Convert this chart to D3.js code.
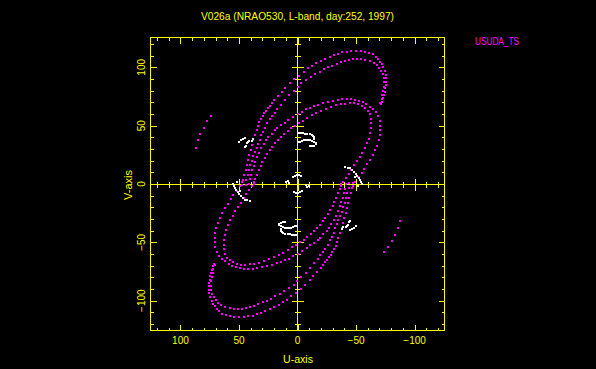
<!DOCTYPE html>
<html><head><meta charset="utf-8">
<script src="https://cdn.jsdelivr.net/npm/d3@7"></script>
<style>html,body{margin:0;background:#000;overflow:hidden}svg{display:block}</style>
</head><body>
<svg id="c" width="596" height="369"></svg>
<script>
const titleText = "V026a (NRAO530, L-band, day:252, 1997)";
const legendLabel = "USUDA_TS";
const uTickLabels = [100, 50, 0, -50, -100];
const vTickLabels = [-100, -50, 0, 50, 100];
const minorTicks = d3.range(-120, 121, 10);

// UV samples [u, v] (upper half); each is also drawn at its conjugate (-u, -v)
const trackO1 = [[47.4,-0.9],[46.6,3.4],[45.4,7.7],[44.4,12.0],[43.4,16.3],[42.3,20.6],[41.2,24.9],[40.0,29.1],[38.9,33.4],[37.8,37.7],[36.7,42.0],[35.0,46.3],[33.7,49.7],[32.5,52.9],[31.2,55.7],[29.7,58.3],[28.2,60.6],[26.9,62.8],[25.2,65.1],[23.9,67.1],[21.8,69.4],[19.8,72.0],[16.9,75.4],[13.5,78.9],[10.4,82.5],[6.4,86.6],[2.6,90.0],[-1.3,93.0],[-5.3,96.4],[-9.0,99.2],[-12.4,101.4],[-16.1,103.5],[-19.8,105.7],[-23.2,107.1],[-27.5,108.9],[-31.2,110.6],[-34.6,111.7],[-38.3,112.9],[-42.0,113.4],[-46.0,114.0],[-50.2,114.3],[-54.0,114.0],[-57.4,113.4],[-60.8,112.5],[-64.5,111.2],[-66.8,109.1],[-68.8,107.1],[-70.5,104.8],[-72.2,102.6],[-73.3,100.0],[-74.5,96.9],[-75.3,93.4],[-75.6,90.6],[-75.6,87.7],[-75.3,84.9],[-75.0,82.0],[-74.5,79.1],[-73.9,76.3],[-73.0,73.5],[-72.2,70.5],[-71.6,68.3]];
const trackO2 = [[44.4,-0.9],[43.7,3.4],[42.7,7.7],[41.4,12.0],[40.2,15.9],[38.9,19.7],[37.6,23.6],[36.3,27.4],[34.9,30.9],[33.6,34.7],[32.2,38.1],[30.8,41.6],[29.2,45.0],[27.8,48.4],[26.1,51.9],[23.9,55.3],[21.8,58.3],[19.6,60.9],[17.1,64.3],[14.1,68.1],[10.7,72.4],[7.0,76.3],[3.0,79.7],[-0.2,83.1],[-3.2,86.3],[-7.5,89.1],[-11.3,91.7],[-15.2,94.0],[-19.0,96.3],[-22.6,98.3],[-26.1,100.0],[-29.7,101.4],[-33.5,102.9],[-36.9,104.3],[-40.3,105.4],[-43.7,106.3],[-47.4,106.9],[-51.1,107.1],[-54.5,106.9],[-57.9,106.3],[-61.7,105.4],[-65.4,104.0],[-68.2,102.0],[-69.9,99.7],[-71.6,96.9],[-72.8,94.0],[-73.5,90.6],[-73.7,87.2],[-73.5,83.4],[-73.0,79.7],[-72.4,76.3],[-71.8,72.9],[-70.9,69.4]];
const trackI1 = [[41.7,0.0],[40.6,3.9],[39.7,7.7],[38.6,11.6],[37.4,15.4],[36.1,19.1],[34.6,23.1],[32.9,27.0],[31.2,30.6],[29.0,34.0],[26.9,37.3],[24.8,40.3],[22.2,43.1],[19.6,45.9],[17.1,48.3],[14.1,50.6],[11.1,52.7],[7.7,54.9],[3.8,57.4],[0.0,60.0],[-3.6,62.0],[-7.1,63.9],[-10.6,65.4],[-14.1,66.9],[-17.8,68.1],[-21.8,69.3],[-26.1,70.5],[-30.3,71.4],[-34.2,72.0],[-38.0,72.5],[-41.9,72.7],[-45.7,72.6],[-49.1,72.2],[-52.5,71.3],[-56.0,70.0],[-58.9,68.3],[-61.9,66.3],[-64.5,64.0],[-66.9,61.5],[-68.8,58.3],[-70.1,54.4],[-70.8,50.1],[-70.9,45.9],[-70.3,41.6],[-69.2,37.3],[-67.7,33.0],[-66.0,28.9],[-64.1,24.9],[-61.9,20.8],[-59.6,16.9],[-57.2,13.1],[-54.7,9.4],[-52.1,5.7],[-49.5,2.1],[-47.0,-1.3]];
const trackI2 = [[36.9,0.0],[35.9,3.9],[34.6,7.7],[33.1,11.6],[31.6,15.3],[29.9,18.9],[28.0,22.3],[26.1,25.7],[23.9,28.9],[21.6,32.0],[19.2,35.0],[16.7,37.7],[14.1,40.3],[11.3,42.9],[8.4,45.3],[5.4,47.6],[2.3,49.7],[-0.9,52.0],[-4.3,54.4],[-8.1,56.7],[-12.0,58.9],[-16.1,60.6],[-20.3,62.6],[-24.6,64.5],[-28.9,66.0],[-33.1,67.3],[-37.0,68.2],[-40.8,68.8],[-44.6,69.2],[-48.3,69.1],[-51.7,68.4],[-54.7,67.1],[-57.5,65.3],[-60.1,63.0],[-61.8,60.0],[-62.6,56.1],[-63.0,51.9],[-62.8,47.6],[-62.1,43.3],[-60.9,39.0],[-59.4,34.9],[-57.5,30.9],[-55.4,27.0],[-53.1,23.1],[-50.7,19.5],[-48.3,15.9],[-45.9,12.3],[-43.6,8.7],[-41.3,5.1],[-39.0,1.5],[-36.8,-2.0]];
const trackS = [[73.9,58.3],[77.1,54.0],[80.5,48.3],[83.3,43.5],[85.3,37.7],[87.0,31.5]];
const whiteW1 = [[49.7,36.3],[48.3,37.7],[46.3,38.6],[44.9,39.2],[43.4,34.9],[44.3,32.8],[44.9,31.5],[42.5,36.0],[41.2,36.6],[39.1,37.1],[37.8,38.3]];
const whiteW2 = [[-1.7,44.0],[-3.4,43.9],[-5.1,43.5],[-6.8,43.1],[-8.5,42.9],[-10.3,42.6],[-12.0,42.0],[-13.2,41.1],[-14.1,39.9],[-14.4,38.6],[-0.9,35.7],[-2.1,36.3],[-3.8,37.1],[-5.6,37.7],[-7.3,38.0],[-9.0,38.0],[-10.7,37.7],[-12.4,37.1],[-14.1,36.4],[-15.4,35.4],[-15.4,34.0],[-13.7,33.0],[-12.0,32.6],[-10.3,32.3]];
const whiteW3 = [[-41.0,14.3],[-43.1,13.9],[-44.9,13.3],[-46.6,12.0],[-48.3,10.5],[-49.8,8.8],[-51.1,7.1],[-52.3,5.3],[-53.4,3.4],[-54.4,1.5],[-55.1,-0.4],[-49.1,5.6],[-52.1,-2.1]];
const whiteW4 = [[4.1,6.4],[2.4,7.0],[0.7,7.3],[-1.0,7.3],[-2.7,7.0]];
const whiteW5 = [[9.6,2.0],[8.1,2.8],[7.5,0.6]];

const YEL = "#ffff00", MAG = "#ff00ff", WHT = "#ffffff";
const svg = d3.select("#c");
svg.append("rect").attr("width", 596).attr("height", 369).attr("fill", "#000");

const x = d3.scaleLinear().domain([126, -126]).range([150, 445]);
const y = d3.scaleLinear().domain([-126, 126]).range([331, 37]);

const withConj = arr => arr.concat(arr.map(d => [-d[0], -d[1]]));

function dots(arr, color, size) {
  svg.append("g").attr("shape-rendering", "crispEdges")
    .selectAll("rect").data(withConj(arr)).join("rect")
    .attr("x", d => Math.round(x(d[0]) - size / 2))
    .attr("y", d => Math.round(y(d[1]) - size / 2))
    .attr("width", size).attr("height", size).attr("fill", color);
}

// frame and axes
const g = svg.append("g").attr("stroke", YEL).attr("stroke-width", 1).attr("shape-rendering", "crispEdges");
const X0 = Math.round(x(126)) + 0.5, X1 = Math.round(x(-126)) - 0.5;
const Y0 = Math.round(y(126)) + 0.5, Y1 = Math.round(y(-126)) - 0.5;
const xz = Math.floor(x(0)) + 0.5, yz = Math.round(y(0)) + 0.5;
g.append("rect").attr("x", X0).attr("y", Y0).attr("width", X1 - X0).attr("height", Y1 - Y0).attr("fill", "none");
g.append("line").attr("x1", X0).attr("x2", X1).attr("y1", yz).attr("y2", yz);
g.append("line").attr("x1", xz).attr("x2", xz).attr("y1", Y0).attr("y2", Y1);

minorTicks.forEach(t => {
  const L = (t % 50 === 0) ? 6 : 3;
  const px = Math.round(x(t)) + 0.5, py = Math.round(y(t)) + 0.5;
  // frame ticks (inward)
  g.append("line").attr("x1", px).attr("x2", px).attr("y1", Y1).attr("y2", Y1 - L);
  g.append("line").attr("x1", px).attr("x2", px).attr("y1", Y0).attr("y2", Y0 + L);
  g.append("line").attr("y1", py).attr("y2", py).attr("x1", X0).attr("x2", X0 + L);
  g.append("line").attr("y1", py).attr("y2", py).attr("x1", X1).attr("x2", X1 - L);
  // ticks on zero axes (both sides)
  g.append("line").attr("x1", px).attr("x2", px).attr("y1", yz - L).attr("y2", yz + L);
  g.append("line").attr("y1", py).attr("y2", py).attr("x1", xz - L).attr("x2", xz + L);
});

// data points
dots(trackO1, MAG, 2);
dots(trackO2, MAG, 2);
dots(trackI1, MAG, 2);
dots(trackI2, MAG, 2);
dots(trackS, MAG, 1.5);
dots(whiteW1, WHT, 2);
dots(whiteW2, WHT, 2);
dots(whiteW3, WHT, 2);
dots(whiteW4, WHT, 2);
dots(whiteW5, WHT, 2);

// texts
const font = "'Liberation Sans', Arial, sans-serif";
const fmt = v => v < 0 ? "\u2212" + Math.abs(v) : String(v);
svg.append("g").selectAll("text").data(uTickLabels).join("text")
  .attr("x", d => x(d)).attr("y", 343.5).attr("text-anchor", "middle")
  .attr("font-family", font).attr("font-size", 10).attr("fill", YEL).text(fmt);
svg.append("g").selectAll("text").data(vTickLabels).join("text")
  .attr("transform", d => `translate(145,${y(d)}) rotate(-90)`).attr("text-anchor", "middle")
  .attr("font-family", font).attr("font-size", 10).attr("fill", YEL).text(fmt);

svg.append("text").attr("x", 297.5).attr("y", 19.5).attr("text-anchor", "middle")
  .attr("font-family", font).attr("font-size", 10).attr("fill", YEL)
  .attr("textLength", 193).attr("lengthAdjust", "spacingAndGlyphs").text(titleText);
svg.append("text").attr("x", 475).attr("y", 45)
  .attr("font-family", font).attr("font-size", 10).attr("fill", MAG)
  .attr("textLength", 44).attr("lengthAdjust", "spacingAndGlyphs").text(legendLabel);
svg.append("text").attr("x", 298).attr("y", 362.5).attr("text-anchor", "middle")
  .attr("font-family", font).attr("font-size", 10).attr("fill", YEL)
  .attr("textLength", 30).attr("lengthAdjust", "spacingAndGlyphs").text("U-axis");
svg.append("text").attr("transform", "translate(131.5,185) rotate(-90)").attr("text-anchor", "middle")
  .attr("font-family", font).attr("font-size", 10).attr("fill", YEL)
  .attr("textLength", 30).attr("lengthAdjust", "spacingAndGlyphs").text("V-axis");
</script>
</body></html>
